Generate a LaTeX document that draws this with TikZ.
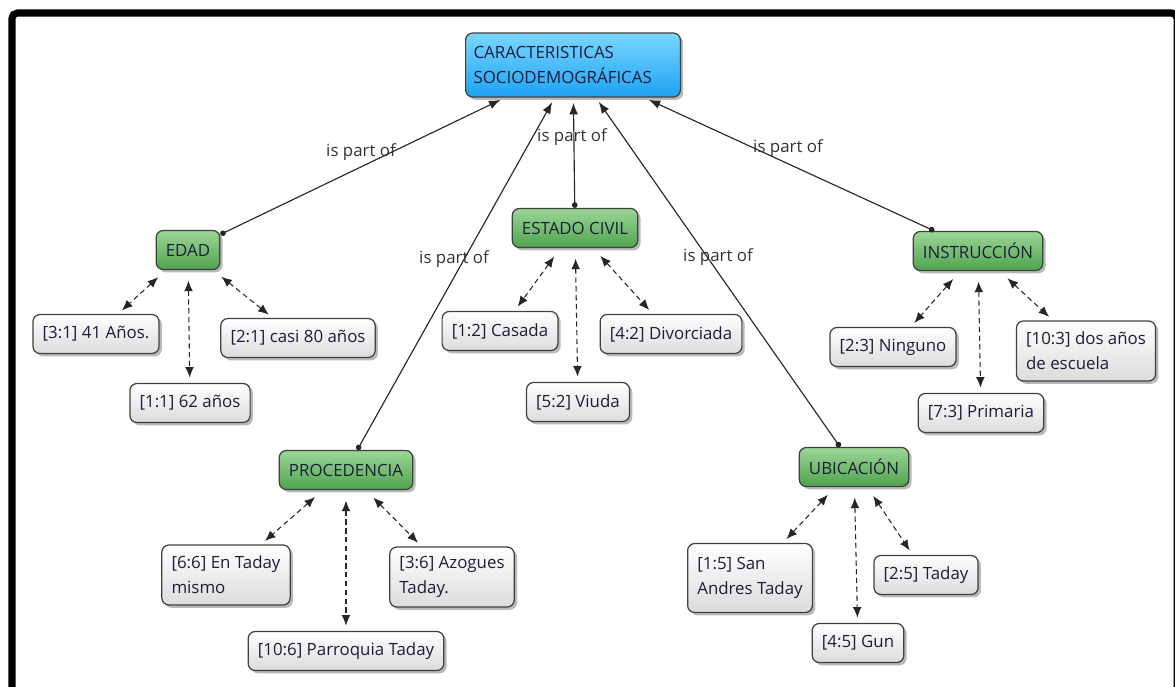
\documentclass[tikz,border=0pt]{standalone}
\usepackage{fontspec}
\setmainfont{Open Sans}
\usetikzlibrary{arrows.meta,shadows}

\definecolor{rootTop}{HTML}{7AD6FF}
\definecolor{rootBot}{HTML}{1FA2F2}
\definecolor{hubTop}{HTML}{9CD696}
\definecolor{hubBot}{HTML}{4FA34F}
\definecolor{leafBot}{HTML}{DCDCDC}
\definecolor{inkText}{HTML}{1E1E3C}

\tikzset{
  concept/.style={draw=black!75, line width=0.7pt, rounded corners=4pt, inner xsep=5.5pt, inner ysep=4pt,
    minimum height=0.78cm, text=inkText, font=\fontsize{9.6}{14.2}\selectfont,
    drop shadow={shadow xshift=1.6pt, shadow yshift=-1.6pt, opacity=0.55}},
  rootbox/.style={concept, top color=rootTop, bottom color=rootBot, align=left,
    inner xsep=4.5pt, text width=3.98cm, minimum height=1.28cm},
  hub/.style={concept, top color=hubTop, bottom color=hubBot},
  leaf/.style={concept, top color=white, bottom color=leafBot, align=left},
  tallleaf/.style={leaf, minimum height=1.2cm},
  partof/.style={{Circle[length=3.2pt]}-{Latex[length=6.5pt,width=5pt]}, line width=0.65pt,
    shorten >=3pt, black!85},
  linkto/.style={{Latex[length=6pt,width=5pt]}-{Latex[length=6pt,width=5pt]}, line width=0.6pt,
    densely dashed, shorten <=6pt, shorten >=3pt, black!85},
  relname/.style={text=black!80, font=\fontsize{9.6}{11}\selectfont}
}

\begin{document}
\begin{tikzpicture}[x=0.02cm, y=-0.02cm]
\useasboundingbox (0,0) rectangle (1175,686);
% outer frame
\draw[line width=4pt, rounded corners=3pt] (12,700) -- (12,13) -- (1177,13) -- (1177,700);

% top concept
\node[rootbox] (socio) at (573,65) {CARACTERISTICAS\\SOCIODEMOGRÁFICAS};

% second level
\node[hub] (edad) at (188,250) {EDAD};
\node[hub] (civil) at (575,228) {ESTADO CIVIL};
\node[hub] (instr) at (978,251) {INSTRUCCIÓN};
\node[hub] (proc) at (346,470) {PROCEDENCIA};
\node[hub] (ubic) at (854,467) {UBICACIÓN};

% quotes
\node[leaf] (e3) at (96,334) {[3:1] 41 Años.};
\node[leaf] (e2) at (298,338) {[2:1] casi 80 años};
\node[leaf] (e1) at (190,403) {[1:1] 62 años};
\node[leaf] (c1) at (500,331) {[1:2] Casada};
\node[leaf] (c4) at (671,334) {[4:2] Divorciada};
\node[leaf] (c5) at (578,402) {[5:2] Viuda};
\node[leaf] (i2) at (893,347) {[2:3] Ninguno};
\node[tallleaf] (i10) at (1086,351) {[10:3] dos años\\de escuela};
\node[leaf] (i7) at (981,413) {[7:3] Primaria};
\node[tallleaf] (p6) at (226,575) {[6:6] En Taday\\mismo};
\node[tallleaf] (p3) at (452,577) {[3:6] Azogues\\Taday.};
\node[leaf] (p10) at (346,651) {[10:6] Parroquia Taday};
\node[tallleaf, minimum height=1.38cm] (u1) at (750,578) {[1:5] San\\Andres Taday};
\node[leaf] (u2) at (926,575) {[2:5] Taday};
\node[leaf] (u4) at (858,643) {[4:5] Gun};

% is part of
\draw[partof] (edad) -- (socio);
\draw[partof] (civil) -- (socio);
\draw[partof] (proc) -- (socio);
\draw[partof] (ubic) -- (socio);
\draw[partof] (instr) -- (socio);
\node[relname] (r1) at (361,152) {is part of};
\node[relname] (r2) at (572,137) {is part of};
\node[relname] (r3) at (454,259) {is part of};
\node[relname] (r4) at (718,257) {is part of};
\node[relname] (r5) at (788,148) {is part of};

% quote links
\foreach \a/\b in {edad/e3, edad/e2, edad/e1, civil/c1, civil/c4, civil/c5,
  instr/i2, instr/i10, instr/i7, proc/p6, proc/p3, proc/p10,
  ubic/u1, ubic/u2, ubic/u4}
  \draw[linkto] (\a) -- (\b);
\end{tikzpicture}
\end{document}
